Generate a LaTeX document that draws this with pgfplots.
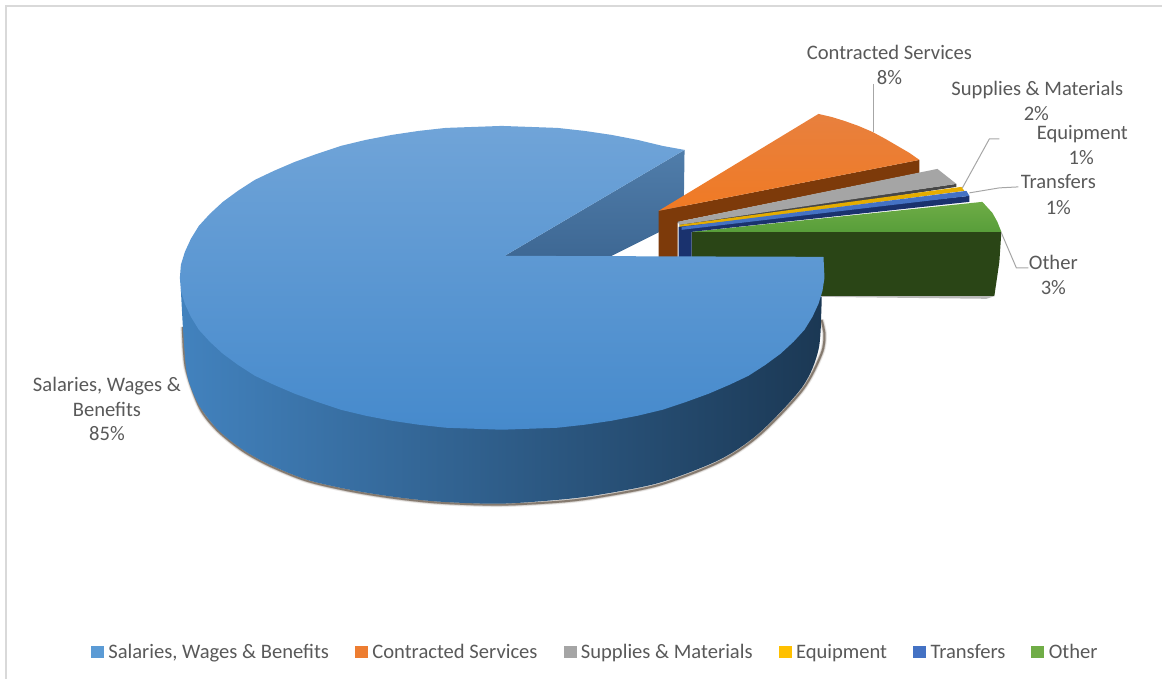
\documentclass[border=0pt]{standalone}
\usepackage{pgfplots}
\pgfplotsset{compat=1.18}
\usepackage{fontspec}
\setmainfont{Carlito}
\definecolor{txt}{HTML}{595959}
\definecolor{lead}{HTML}{A6A6A6}
\definecolor{frame}{HTML}{D9D9D9}
\definecolor{sal}{HTML}{5B9BD5}
\definecolor{con}{HTML}{ED7D31}
\definecolor{sup}{HTML}{A5A5A5}
\definecolor{equ}{HTML}{FFC000}
\definecolor{tra}{HTML}{4472C4}
\definecolor{oth}{HTML}{70AD47}
\definecolor{edge}{RGB}{90,75,60}
\tikzset{
  lab/.style={text=txt, font=\fontsize{20.6}{22}\selectfont, inner sep=0pt, anchor=center},
}
\pgfplotsset{
  slice/.style={forget plot, draw=none, mark=none},
  leader/.style={forget plot, draw=lead, line width=1pt, mark=none},
  swatch/.style={legend image code/.code={
    \fill[#1] (0pt,1.5pt) rectangle (12pt,12.5pt);}},
}
% lower rim of the main slice, shared by its wall shadow
\newcommand{\rimshadow}{(183,327) (186,368) (200,408) (218,431) (243,451) (270,466) (307,481) (350,491) (393,498) (440,503) (500,505) (560,502) (600,497) (660,485) (720,462) (760,435) (803,390) (822,354) (825,335) (822,320)}
\begin{document}
\begin{tikzpicture}
\begin{axis}[
  scale only axis, width=1163pt, height=679pt,
  xmin=0, xmax=1163, ymin=0, ymax=679, y dir=reverse,
  hide axis, clip=false,
  legend style={at={(axis cs:91,652.5)}, anchor=west, draw=none, fill=none,
    legend columns=6, text=txt, font=\fontsize{20.6}{22}\selectfont,
    inner sep=0pt, outer sep=0pt,
    nodes={inner sep=0pt, anchor=base west},
    /tikz/every odd column/.style={column sep=5pt},
    /tikz/every even column/.style={column sep=26pt}},
  legend cell align=left,
]
\addlegendimage{swatch=sal}
\addlegendimage{swatch=con}
\addlegendimage{swatch=sup}
\addlegendimage{swatch=equ}
\addlegendimage{swatch=tra}
\addlegendimage{swatch=oth}
\addlegendentry{Salaries, Wages \& Benefits}
\addlegendentry{Contracted Services}
\addlegendentry{Supplies \& Materials}
\addlegendentry{Equipment}
\addlegendentry{Transfers}
\addlegendentry{Other}

% page extent
\addplot[forget plot, draw=none] coordinates {(0,0) (1163,679)};

% chart frame
\addplot[forget plot, draw=frame, line width=1.5pt] coordinates {(6,679) (6,6) (1163,6)};

% Salaries: inner cut face, behind the exploded slices
\addplot[slice, top color={rgb,255:red,80;green,125;blue,170}, bottom color={rgb,255:red,62;green,104;blue,148}] coordinates {(505,256) (685,150) (684,220) (612,256)} -- cycle;

% Other: wall and top
\addplot[slice, fill=black!55, opacity=.5] coordinates {(820,297) (987,299) (996,296) (820,293)} -- cycle;
\addplot[slice, fill={rgb,255:red,42;green,69;blue,22}] coordinates {(692,232) (1002,232) (1000,262) (995,296) (815,296) (692,257)} -- cycle;
\addplot[slice, top color={rgb,255:red,110;green,172;blue,70}, bottom color={rgb,255:red,88;green,158;blue,58}] coordinates {(692,232) (983,202) (993,213) (998,222) (1002,232)} -- cycle;

% Contracted Services: wall and top
\addplot[slice, fill={rgb,255:red,125;green,58;blue,10}] coordinates {(659,211) (920,160) (920,173) (678,222) (678,258) (659,258)} -- cycle;
\addplot[slice, top color={rgb,255:red,232;green,128;blue,62}, bottom color={rgb,255:red,240;green,122;blue,36}] coordinates {(659,211) (819,114) (832,117) (845,121) (859,126) (873,132) (886,139) (898,146) (910,153) (920,160)} -- cycle;

% Supplies & Materials: wall and top
\addplot[slice, fill={rgb,255:red,70;green,70;blue,70}] coordinates {(680,224) (957,184) (957,187) (680,229)} -- cycle;
\addplot[slice, fill=sup] coordinates {(678,222) (938,169) (957,184) (680,225)} -- cycle;

% Equipment: top
\addplot[slice, fill=equ!90!black] coordinates {(680,225) (962,187) (965,191) (680,228)} -- cycle;

% Transfers: wall and top
\addplot[slice, fill={rgb,255:red,26;green,50;blue,110}] coordinates {(679,227) (970,196) (970,202) (692,232) (692,258) (679,258)} -- cycle;
\addplot[slice, fill=tra] coordinates {(682,227) (967,191) (970,196) (682,230)} -- cycle;

% Salaries: soft edge under the wall
\addplot[forget plot, smooth, draw=edge, line width=5pt, opacity=.12, line join=round] coordinates {\rimshadow};
\addplot[forget plot, smooth, draw=edge, line width=3.2pt, opacity=.25, line join=round] coordinates {\rimshadow};
\addplot[forget plot, smooth, draw=edge, line width=2pt, opacity=.6, line join=round] coordinates {\rimshadow};

% Salaries: outer wall
\addplot[slice, smooth, left color={rgb,255:red,66;green,130;blue,190}, middle color={rgb,255:red,37;green,76;blue,114}, right color={rgb,255:red,27;green,56;blue,84}]
  coordinates {(181,290) (183,327) (186,367) (190,385) (200,407) (218,430) (243,450) (270,465) (307,480) (350,490) (393,497) (440,502) (500,504) (560,500) (600,495) (660,483) (720,460) (760,433) (803,387) (819,350) (822,307) (822,297)} -- cycle;

% Salaries: top face
\addplot[slice, top color={rgb,255:red,112;green,164;blue,216}, bottom color={rgb,255:red,70;green,138;blue,204}]
  coordinates {(505,256) (824,257) (825,278) (823,291) (819,304) (813,317) (805,330) (794,342) (781,354) (766,365) (749,376) (730,385) (709,394) (687,402) (663,410) (638,416) (612,421) (585,425) (558,428) (530,429) (502,430) (474,429) (446,428) (419,425) (392,421) (366,416) (341,410) (317,402) (295,394) (274,385) (255,376) (238,365) (223,354) (210,342) (199,330) (191,317) (185,304) (181,291) (180,278) (181,265) (185,252) (191,239) (199,226) (210,214) (223,202) (238,191) (255,180) (274,171) (295,162) (317,154) (341,146) (366,140) (392,135) (419,131) (446,128) (474,127) (502,126) (530,127) (558,128) (585,131) (612,135) (638,140) (663,146) (685,150)} -- cycle;

% leader lines
\addplot[leader] coordinates {(874,84) (874,132)};
\addplot[leader] coordinates {(1000,139) (990,139) (963,188)};
\addplot[leader] coordinates {(1019,187) (1000,188) (970,193)};
\addplot[leader] coordinates {(1029,268) (1017,268) (1002,233)};

% data labels
\node[lab] at (axis cs:890,52.5) {Contracted Services};
\node[lab] at (axis cs:890,78) {8\%};
\node[lab] at (axis cs:1038,90) {Supplies \& Materials};
\node[lab] at (axis cs:1037,114) {2\%};
\node[lab] at (axis cs:1083,134) {Equipment};
\node[lab] at (axis cs:1082,158) {1\%};
\node[lab] at (axis cs:1059,182) {Transfers};
\node[lab] at (axis cs:1059,208) {1\%};
\node[lab] at (axis cs:1054,263) {Other};
\node[lab] at (axis cs:1054,288) {3\%};
\node[lab] at (axis cs:107,386) {Salaries, Wages \&};
\node[lab] at (axis cs:107,410) {Benefits};
\node[lab] at (axis cs:107,434) {85\%};
\end{axis}
\end{tikzpicture}
\end{document}
